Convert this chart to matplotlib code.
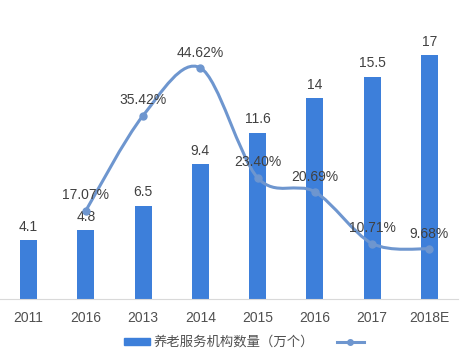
import matplotlib.pyplot as plt
from matplotlib.path import Path
from matplotlib.patches import PathPatch, Patch
from matplotlib.lines import Line2D

# data
years = ["2011", "2016", "2013", "2014", "2015", "2016", "2017", "2018E"]
counts = [4.1, 4.8, 6.5, 9.4, 11.6, 14, 15.5, 17]
count_labels = ["4.1", "4.8", "6.5", "9.4", "11.6", "14", "15.5", "17"]
growth_idx = [1, 2, 3, 4, 5, 6, 7]
growth = [17.07, 35.42, 44.62, 23.40, 20.69, 10.71, 9.68]

BAR = "#3d7fda"
LINE = "#6e96cf"
TXT = "#404040"


def smooth_path(xs, ys, t=0.16):
    # cubic bezier segments through the points (render-only smoothing)
    verts = [(xs[0], ys[0])]
    codes = [Path.MOVETO]
    n = len(xs)
    for i in range(n - 1):
        x0, y0 = xs[max(i - 1, 0)], ys[max(i - 1, 0)]
        x1, y1 = xs[i], ys[i]
        x2, y2 = xs[i + 1], ys[i + 1]
        x3, y3 = xs[min(i + 2, n - 1)], ys[min(i + 2, n - 1)]
        c1 = (x1 + (x2 - x0) * t, y1 + (y2 - y0) * t)
        c2 = (x2 - (x3 - x1) * t, y2 - (y3 - y1) * t)
        verts += [c1, c2, (x2, y2)]
        codes += [Path.CURVE4] * 3
    return Path(verts, codes)


def main():
    fig = plt.figure(figsize=(4.69, 3.6), dpi=100)
    ax = fig.add_axes([0.0, (360 - 299) / 360, 458 / 469, 279 / 360])
    x = list(range(len(years)))
    ax.bar(x, counts, width=0.3, color=BAR, zorder=2)
    for xi, v, lab in zip(x, counts, count_labels):
        ax.text(xi, v + 0.45, lab, ha="center", va="bottom", fontsize=10,
                color=TXT, family="Liberation Sans", zorder=5)
    ax.set_xlim(-0.5, len(years) - 0.5)
    ax.set_ylim(0, 279 / 14.35)
    ax.set_xticks(x)
    ax.set_xticklabels(years, fontsize=10, color="#505050", family="Liberation Sans")
    ax.tick_params(axis="x", length=0, pad=9)
    ax.set_yticks([])
    for s in ["top", "right", "left"]:
        ax.spines[s].set_visible(False)
    ax.spines["bottom"].set_color("#d9d9d9")

    ax2 = ax.twinx()
    ax2.set_ylim(0, 279 / 5.18)
    ax2.axis("off")
    ax2.add_patch(PathPatch(smooth_path(growth_idx, growth), fill=False,
                            edgecolor=LINE, lw=2.2, zorder=3))
    ax2.plot(growth_idx, growth, ls="none", marker="o", ms=5, color=LINE, zorder=4)
    for xi, g in zip(growth_idx, growth):
        ax2.text(xi, g + 1.6, f"{g:.2f}%", ha="center", va="bottom", fontsize=10,
                 color=TXT, family="Liberation Sans", zorder=5)

    handles = [Patch(color=BAR),
               Line2D([], [], color=LINE, lw=2.2, marker="o", ms=4)]
    fig.legend(handles, ["养老服务机构数量（万个）", ""], loc="center",
               bbox_to_anchor=(0.523, 1 - 342 / 360), ncol=2, frameon=False,
               prop={"family": ["Noto Sans CJK SC", "DejaVu Sans"], "size": 9.6},
               handlelength=2.0, handleheight=0.45, handletextpad=0.25,
               columnspacing=1.7, labelcolor="#505050")
    fig.savefig("out.png", dpi=100)


if __name__ == "__main__":
    main()
